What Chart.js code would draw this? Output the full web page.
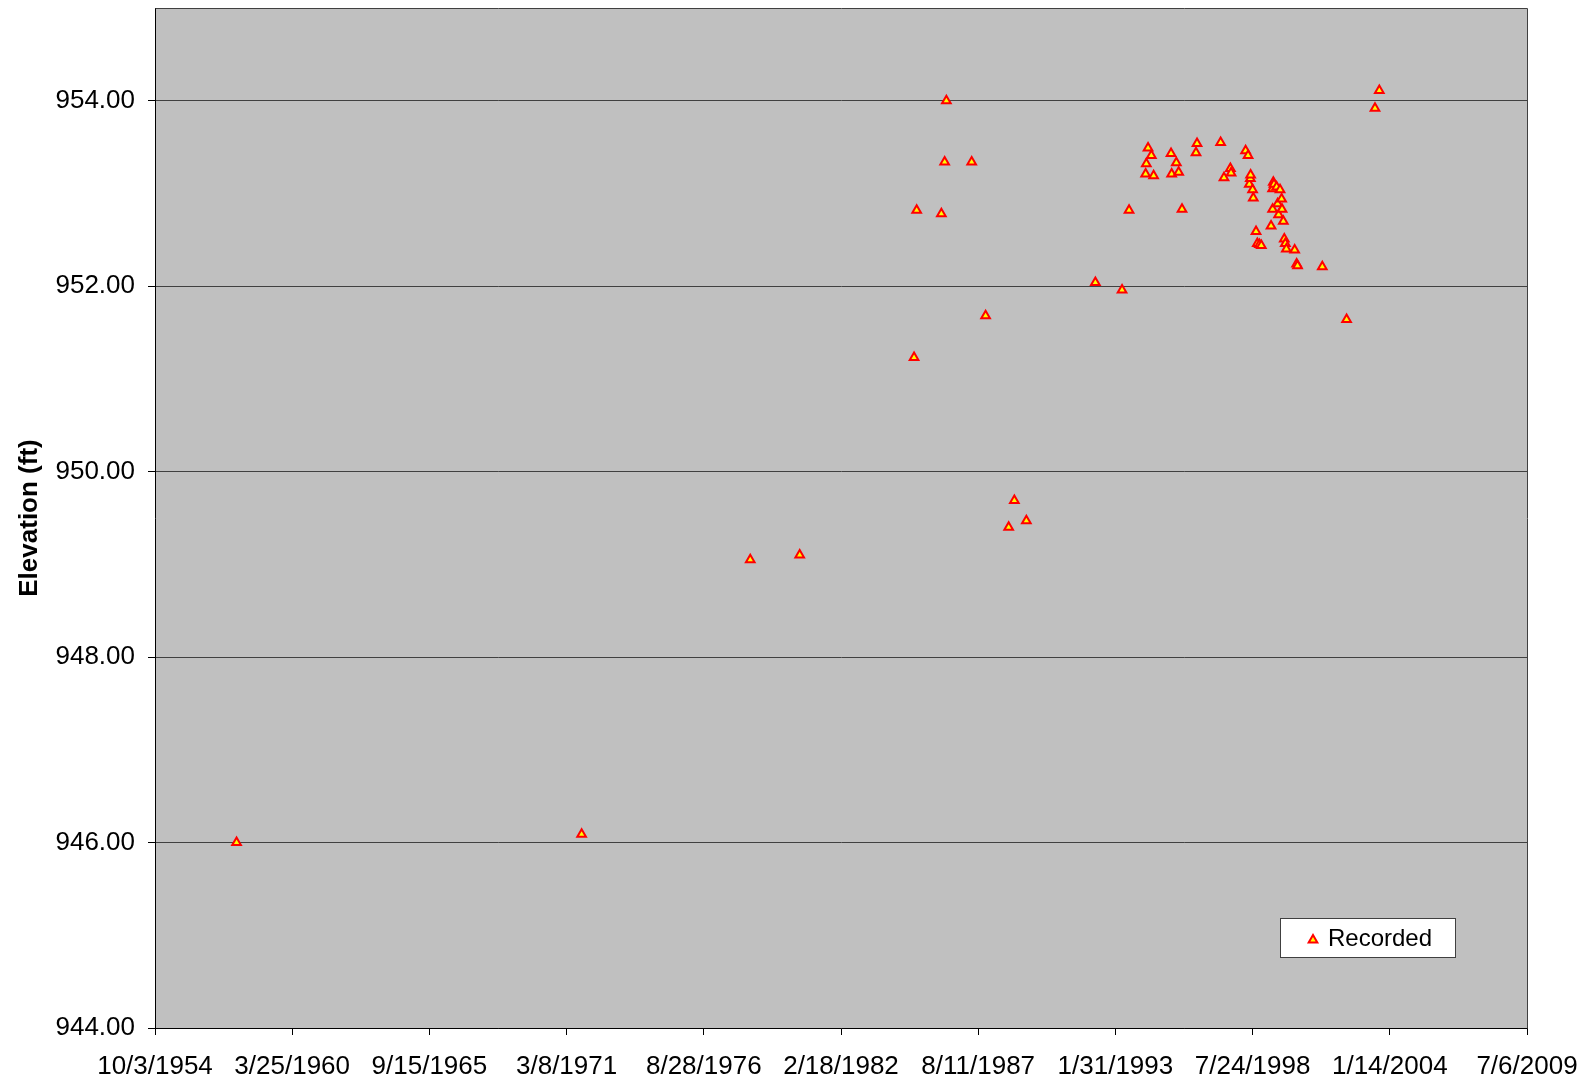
<!DOCTYPE html>
<html><head><meta charset="utf-8">
<script src="https://cdn.jsdelivr.net/npm/chart.js@4/dist/chart.umd.min.js"></script>
<style>html,body{margin:0;padding:0;background:#fff;overflow:hidden}#wrap{position:relative;width:1589px;height:1081px}</style>
</head><body><div id="wrap"><canvas id="c" width="1589" height="1081"></canvas></div>
<script>
// Excel date serials (days since 12/30/1899)
const dateSerials = [21189, 26219, 28677, 29398, 31065, 31103, 31463, 31511, 31536, 31905,
  32108, 32444, 32527, 32702, 33708, 34097, 34199, 34441, 34451, 34476,
  34524, 34557, 34811, 34820, 34888, 34922, 34971, 35175, 35190, 35534,
  35583, 35676, 35686, 35898, 35934, 35952, 35967, 35971, 36000, 36010,
  36050, 36069, 36100, 36127, 36269, 36292, 36292, 36302, 36312, 36350,
  36365, 36379, 36400, 36423, 36429, 36448, 36462, 36477, 36492, 36613,
  36642, 36655, 37016, 37370, 37784, 37847];
const elevations = [946.00, 946.09, 949.05, 949.10, 951.23, 952.82, 952.78, 953.34, 954.00, 953.34,
  951.68, 949.40, 949.69, 949.47, 952.04, 951.96, 952.82, 953.21, 953.32, 953.49,
  953.41, 953.19, 953.43, 953.21, 953.33, 953.23, 952.83, 953.44, 953.54, 953.55,
  953.17, 953.27, 953.22, 953.46, 953.41, 953.10, 953.16, 953.20, 953.04, 952.95,
  952.59, 952.46, 952.45, 952.44, 952.65, 953.05, 952.83, 953.12, 953.10, 953.07,
  952.89, 952.77, 953.04, 952.94, 952.83, 952.70, 952.51, 952.46, 952.40, 952.39,
  952.24, 952.22, 952.21, 951.64, 953.92, 954.11];
const xTickSerials = [20000, 22000, 24000, 26000, 28000, 30000, 32000, 34000, 36000, 38000, 40000];
const xTickLabels = ['10/3/1954', '3/25/1960', '9/15/1965', '3/8/1971', '8/28/1976', '2/18/1982',
  '8/11/1987', '1/31/1993', '7/24/1998', '1/14/2004', '7/6/2009'];
const yTickValues = [944, 946, 948, 950, 952, 954];
const yTickLabels = ['944.00', '946.00', '948.00', '950.00', '952.00', '954.00'];
const seriesLabel = 'Recorded';
const yAxisTitle = 'Elevation (ft)';

const FONT = "'Liberation Sans', Arial, sans-serif";
const points = dateSerials.map((x, i) => ({x: x, y: elevations[i]}));

const plotArea = {
  id: 'plotArea',
  beforeDraw(chart) {
    const {ctx, chartArea: a} = chart;
    ctx.save();
    ctx.fillStyle = '#C0C0C0';
    ctx.fillRect(a.left, a.top, a.right - a.left, a.bottom - a.top);
    ctx.restore();
  },
  beforeDatasetsDraw(chart) {
    const {ctx, chartArea: a} = chart;
    ctx.save();
    ctx.strokeStyle = '#404040';
    ctx.lineWidth = 1;
    ctx.beginPath();
    ctx.moveTo(Math.round(a.left) + 0.5, Math.round(a.top) + 0.5);
    ctx.lineTo(Math.round(a.right) + 0.5, Math.round(a.top) + 0.5);
    ctx.lineTo(Math.round(a.right) + 0.5, Math.round(a.bottom) + 0.5);
    ctx.stroke();
    ctx.restore();
  }
};

function drawTri(ctx, x, y, r) {
  ctx.beginPath();
  ctx.moveTo(x, y - r);
  ctx.lineTo(x + 0.866 * r, y + 0.5 * r);
  ctx.lineTo(x - 0.866 * r, y + 0.5 * r);
  ctx.closePath();
  ctx.fill();
  ctx.stroke();
}

const boxLegend = {
  id: 'boxLegend',
  afterDraw(chart) {
    const {ctx} = chart;
    const ds = chart.data.datasets[0];
    ctx.save();
    ctx.fillStyle = '#FFFFFF';
    ctx.strokeStyle = '#404040';
    ctx.lineWidth = 1;
    ctx.fillRect(1280.5, 918.5, 175, 39);
    ctx.strokeRect(1280.5, 918.5, 175, 39);
    ctx.fillStyle = ds.backgroundColor;
    ctx.strokeStyle = ds.borderColor;
    ctx.lineWidth = 2;
    drawTri(ctx, 1313, 940, 5);
    ctx.fillStyle = '#000';
    ctx.font = '24px ' + FONT;
    ctx.textBaseline = 'middle';
    ctx.textAlign = 'left';
    ctx.fillText(ds.label, 1328, 939);
    ctx.restore();
  }
};

new Chart(document.getElementById('c'), {
  type: 'scatter',
  data: {
    datasets: [{
      label: seriesLabel,
      data: points,
      pointStyle: 'triangle',
      pointRadius: 5,
      pointHoverRadius: 5,
      borderWidth: 2,
      borderColor: '#FF0000',
      backgroundColor: '#FFFF00',
      showLine: false
    }]
  },
  options: {
    responsive: false,
    animation: false,
    devicePixelRatio: 1,
    events: [],
    layout: {padding: {left: 0, right: 62, top: 8, bottom: 0}},
    plugins: {legend: {display: false}, tooltip: {enabled: false}},
    scales: {
      x: {
        type: 'linear',
        min: 20000, max: 40000,
        afterBuildTicks: (axis) => { axis.ticks = xTickSerials.map(v => ({value: v})); },
        afterFit: (scale) => { scale.height = 53; scale.paddingLeft = 0; scale.paddingRight = 0; },
        border: {display: true, color: '#000', width: 1},
        grid: {drawOnChartArea: false, drawTicks: true, tickLength: 7, tickColor: '#000', color: '#000'},
        ticks: {
          autoSkip: false, maxRotation: 0, minRotation: 0, padding: 16,
          color: '#000', font: {family: FONT, size: 26},
          callback: (v, i) => xTickLabels[i]
        }
      },
      y: {
        type: 'linear',
        min: 944, max: 955,
        afterBuildTicks: (axis) => { axis.ticks = yTickValues.map(v => ({value: v})); },
        afterFit: (scale) => { scale.width = 155; scale.paddingTop = 0; scale.paddingBottom = 0; },
        border: {display: true, color: '#000', width: 1},
        grid: {drawOnChartArea: true, drawTicks: true, tickLength: 7, tickColor: '#000', color: '#404040', lineWidth: 1},
        ticks: {
          padding: 13, color: '#000', font: {family: FONT, size: 26},
          callback: (v, i) => yTickLabels[i]
        },
        title: {
          display: true, text: yAxisTitle, color: '#000',
          font: {family: FONT, size: 26, weight: 'bold'},
          padding: {top: 14, bottom: 0}
        }
      }
    }
  },
  plugins: [plotArea, boxLegend]
});
</script></body></html>
